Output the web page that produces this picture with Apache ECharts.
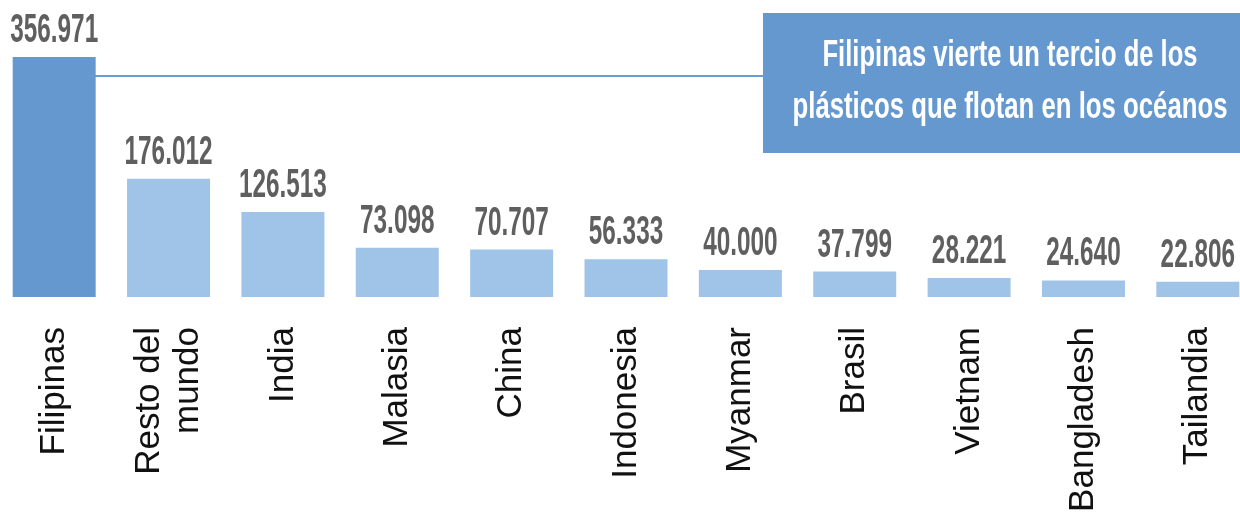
<!DOCTYPE html>
<html>
<head>
<meta charset="utf-8">
<script src="https://cdn.jsdelivr.net/npm/echarts@6/dist/echarts.min.js"></script>
<style>html,body{margin:0;padding:0;background:#fff}#c{width:1240px;height:520px}</style>
</head>
<body>
<div id="c"></div>
<script>
const categories = ['Filipinas', 'Resto del\nmundo', 'India', 'Malasia', 'China', 'Indonesia', 'Myanmar', 'Brasil', 'Vietnam', 'Bangladesh', 'Tailandia'];
const values = [356971, 176012, 126513, 73098, 70707, 56333, 40000, 37799, 28221, 24640, 22806];
const calloutLines = ['Filipinas vierte un tercio de los', 'plásticos que flotan en los océanos'];

const fmt = v => v.toLocaleString('de-DE');
const LABEL_FONT = 'bold 40px "Liberation Sans", Arial, sans-serif';
const CALLOUT_FONT = 'bold 37px "Liberation Sans", Arial, sans-serif';
const ctx = document.createElement('canvas').getContext('2d');
function fitScale(text, font, target) {
  ctx.font = font;
  return target / ctx.measureText(text).width;
}
const labelScale = fitScale('356.971', LABEL_FONT, 88);
const s1 = fitScale(calloutLines[0], CALLOUT_FONT, 375);
const s2 = fitScale(calloutLines[1], CALLOUT_FONT, 435);

const chart = echarts.init(document.getElementById('c'));
chart.setOption({
  animation: false,
  grid: { left: -3, right: -15, top: 55, bottom: 223, containLabel: false, outerBoundsMode: 'none' },
  xAxis: {
    type: 'category',
    data: categories,
    axisLine: { show: false },
    axisTick: { show: false },
    axisLabel: {
      rotate: 90,
      margin: 30,
      fontFamily: 'Liberation Sans, Arial, sans-serif',
      fontSize: 35,
      color: '#111',
      lineHeight: 39,
      interval: 0
    }
  },
  yAxis: { type: 'value', min: 0, max: 360000, show: false, splitLine: { show: false } },
  series: [{
    type: 'bar',
    barWidth: 83,
    data: values.map((v, i) => ({ value: v, itemStyle: { color: i === 0 ? '#6598CF' : '#9FC4E8' } }))
  }, {
    type: 'custom',
    data: values.map((v, i) => [i, v]),
    renderItem: function (params, api) {
      const p = api.coord([api.value(0), api.value(1)]);
      return {
        type: 'text',
        x: p[0],
        y: p[1] - 26,
        scaleX: labelScale,
        style: {
          text: fmt(api.value(1)),
          font: LABEL_FONT,
          fill: '#5f5f5f',
          align: 'center',
          verticalAlign: 'middle'
        }
      };
    },
    z: 3
  }],
  graphic: [
    { type: 'line', shape: { x1: 95, y1: 76, x2: 764, y2: 76 }, style: { stroke: '#6A9BD3', lineWidth: 2 } },
    { type: 'rect', shape: { x: 763, y: 13, width: 477, height: 140 }, style: { fill: '#6598CF' } },
    { type: 'text', x: 1010, y: 56, scaleX: s1, style: { text: calloutLines[0], fill: '#fff', font: CALLOUT_FONT, align: 'center', verticalAlign: 'middle' } },
    { type: 'text', x: 1010, y: 108, scaleX: s2, style: { text: calloutLines[1], fill: '#fff', font: CALLOUT_FONT, align: 'center', verticalAlign: 'middle' } }
  ]
});
</script>
</body>
</html>
